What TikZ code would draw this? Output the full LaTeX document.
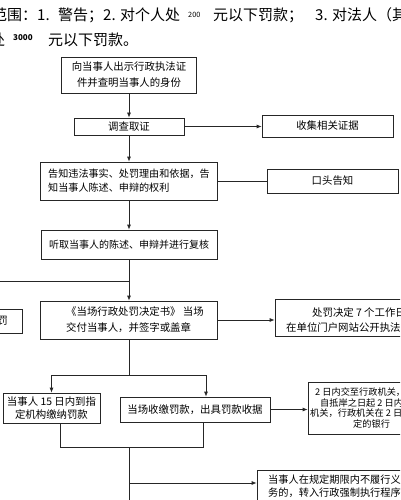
\documentclass[tikz,border=0pt]{standalone}
\usepackage{fontspec}
\setmainfont{Noto Sans CJK SC}
\usetikzlibrary{arrows.meta}
\begin{document}
\begin{tikzpicture}[x=1pt,y=-1pt,
 lc/.style={draw=black!85,line width=0.75pt},
 box/.style={lc,fill=white,inner sep=0pt,align=center,font=\fontsize{10.4}{16}\selectfont},
 txt/.style={inner sep=0pt,align=left,font=\fontsize{10.4}{16}\selectfont},
 arr/.style={lc,-{Latex[length=5pt,width=4pt]}},
 head/.style={inner sep=0pt,font=\fontsize{15}{15}\selectfont},
 small/.style={inner sep=0pt,font=\fontsize{7.3}{8}\selectfont}]
\useasboundingbox (0,0) rectangle (400,500);
\clip (0,0) rectangle (400,500);
\fill[white] (0,0) rectangle (400,500);
% header text
\node[head,anchor=west] (h1) at (-8,15) {范围：1.};
\node[head,anchor=west] (h2) at (58,15) {警告；2. 对个人处};
\node[small,anchor=west] (h3) at (188,15) {200};
\node[head,anchor=west] (h4) at (213,15) {元以下罚款；};
\node[head,anchor=west] (h5) at (315,15) {3. 对法人（其};
\node[head,anchor=west] (h6) at (-10,40) {处};
\node[small,anchor=west,font=\fontsize{8}{8}\selectfont\bfseries] (h7) at (13,38) {3000};
\node[head,anchor=west] (h8) at (48,40) {元以下罚款。};
% boxes
\node[box,minimum width=135pt,minimum height=36pt] (b1) at (129,75) {向当事人出示行政执法证\\件并查明当事人的身份};
\node[box,minimum width=110pt,minimum height=17pt] (b2) at (129,126.5) {调查取证};
\node[box,minimum width=131pt,minimum height=22pt] (b3) at (327.5,126) {收集相关证据};
\node[box,minimum width=177pt,minimum height=38pt,align=left,font=\fontsize{10.1}{14}\selectfont] (b4) at (129,181) {告知违法事实、处罚理由和依据，告\\知当事人陈述、申辩的权利};
\node[box,minimum width=131pt,minimum height=24pt] (b5) at (332.5,181) {口头告知};
\node[box,minimum width=176pt,minimum height=29pt,font=\fontsize{10}{14}\selectfont] (b6) at (129,244.5) {听取当事人的陈述、申辩并进行复核};
\node[box,minimum width=84pt,minimum height=24pt] (bl) at (-20,321) {};
\node[txt,anchor=east] (tl) at (8,321) {罚};
\node[box,minimum width=177pt,minimum height=38pt] (b7) at (129,320) {};
\node[txt,anchor=west] (t7) at (66,320) {《当场行政处罚决定书》 当场\\交付当事人，并签字或盖章};
\node[box,minimum width=200pt,minimum height=37pt] (b8) at (375,317.5) {};
\node[txt,anchor=west] (t8a) at (312,313) {处罚决定 7 个工作日};
\node[txt,anchor=west] (t8b) at (286,328) {在单位门户网站公开执法};
\node[box,minimum width=97pt,minimum height=30pt,font=\fontsize{10.4}{12.5}\selectfont] (b9) at (51.5,408) {当事人 15 日内到指\\定机构缴纳罚款};
\node[box,minimum width=150pt,minimum height=25pt] (b10) at (195,409.5) {当场收缴罚款，出具罚款收据};
\node[box,minimum width=126pt,minimum height=52pt] (b11) at (371,408) {};
\node[txt,anchor=west,font=\fontsize{9.2}{10}\selectfont] (t11a) at (315,392) {2 日内交至行政机关，};
\node[txt,anchor=west,font=\fontsize{9.2}{10}\selectfont] (t11b) at (320,402.5) {自抵岸之日起 2 日内交};
\node[txt,anchor=west,font=\fontsize{9.2}{10}\selectfont] (t11c) at (310,413) {机关，行政机关在 2 日内};
\node[txt,anchor=west,font=\fontsize{9.2}{10}\selectfont] (t11d) at (353,423.5) {定的银行};
\node[box,minimum width=200pt,minimum height=50pt] (b12) at (357,495) {};
\node[txt,anchor=west,font=\fontsize{10.2}{13}\selectfont] (t12a) at (268,480) {当事人在规定期限内不履行义};
\node[txt,anchor=west,font=\fontsize{10.2}{13}\selectfont] (t12b) at (268,493) {务的，转入行政强制执行程序};
% connectors
\coordinate (j1) at (129,281);
\coordinate (jl) at (-20,281);
\coordinate (j2) at (129,375);
\coordinate (j3) at (129,447);
\coordinate (k9) at (60,447);
\coordinate (k10) at (203,447);
\coordinate (j4) at (129,483);
\coordinate (jb) at (129,510);
\draw[arr] (b1) -- (b2);
\draw[arr] (b2.east) -- (b2.east -| b3.west);
\draw[arr] (b2) -- (b4);
\draw[lc] (b4.east) -- (b4.east -| b5.west);
\draw[arr] (b4) -- (b6);
\draw[lc] (b6) -- (j1);
\draw[arr] (j1) -- (b7);
\draw[arr] (j1) -- (jl) -- (bl);
\draw[arr] (b7.east) -- (b7.east -| b8.west);
\draw[lc] (b7) -- (j2);
\draw[arr] (j2) -| (b9);
\draw[arr] (j2) -| ([xshift=11pt]b10.north);
\draw[arr] (b10.east) -- (b10.east -| b11.west);
\draw[lc] ([xshift=8.5pt]b9.south) -- (k9) -- (k10) -- ([xshift=8pt]b10.south);
\draw[lc] (j3) -- (jb);
\draw[arr] (j4) -- (j4 -| b12.west);
\end{tikzpicture}
\end{document}
